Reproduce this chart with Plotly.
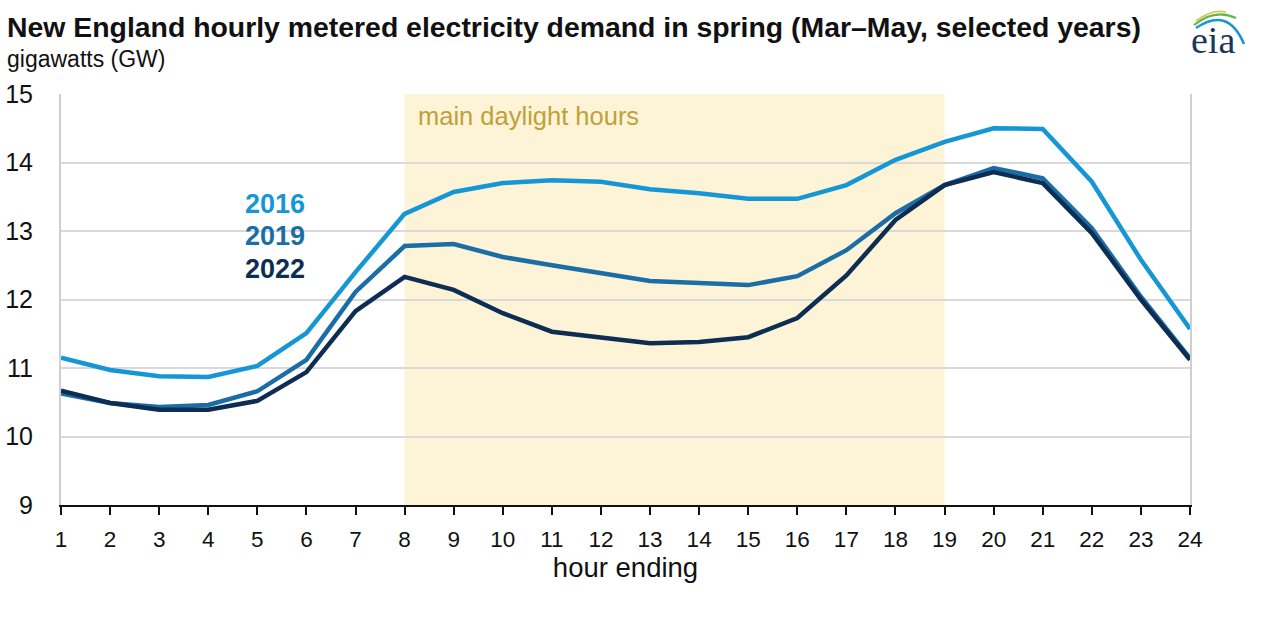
import plotly.graph_objects as go

hours = list(range(1, 25))
demand_2016 = [11.15, 10.97, 10.88, 10.87, 11.03, 11.51, 12.40, 13.25, 13.57, 13.70, 13.74, 13.72,
               13.61, 13.55, 13.47, 13.47, 13.67, 14.04, 14.30, 14.50, 14.49, 13.72, 12.58, 11.57]
demand_2019 = [10.63, 10.49, 10.43, 10.46, 10.66, 11.12, 12.11, 12.78, 12.81, 12.62, 12.50, 12.39,
               12.27, 12.24, 12.21, 12.34, 12.72, 13.26, 13.67, 13.92, 13.77, 13.04, 12.04, 11.14]
demand_2022 = [10.67, 10.49, 10.39, 10.39, 10.52, 10.94, 11.83, 12.33, 12.14, 11.80, 11.53, 11.44,
               11.36, 11.38, 11.45, 11.73, 12.35, 13.16, 13.67, 13.86, 13.70, 12.97, 12.00, 11.12]
series_names = ["2016", "2019", "2022"]
series_colors = ["#1597d5", "#1a6ea5", "#0d2d52"]
daylight_start, daylight_end = 8, 19
y_ticks = [9, 10, 11, 12, 13, 14, 15]

FONT = "Liberation Sans, Arial, sans-serif"

# plot area in pixels
L, R, T, B = 61, 1190, 94, 505
W, H = 1280, 629


def px(x):
    return (x - L) / (R - L)


def py(y):
    return (B - y) / (B - T)


fig = go.Figure()
for name, vals, col in zip(series_names, [demand_2016, demand_2019, demand_2022], series_colors):
    fig.add_trace(go.Scatter(x=hours, y=vals, mode="lines", name=name,
                             line=dict(color=col, width=4.5), showlegend=False))

fig.add_vrect(x0=daylight_start, x1=daylight_end, fillcolor="#fdf4d8", line_width=0, layer="below")

fig.add_annotation(x=daylight_start, y=15, xref="x", yref="y", text="main daylight hours",
                   showarrow=False, xanchor="left", yanchor="top", xshift=11, yshift=-6,
                   font=dict(family=FONT, size=25.5, color="#c1a038"))

label_y = [204, 236, 269]
for name, col, yy in zip(series_names, series_colors, label_y):
    fig.add_annotation(x=px(275), y=py(yy), xref="paper", yref="paper", text="<b>%s</b>" % name,
                       showarrow=False, xanchor="center", yanchor="middle",
                       font=dict(family=FONT, size=27, color=col))

fig.add_annotation(x=px(5), y=py(27), xref="paper", yref="paper", xanchor="left", yanchor="middle",
                   text="<b>New England hourly metered electricity demand in spring (Mar–May, selected years)</b>",
                   showarrow=False, font=dict(family=FONT, size=28.4, color="#111111"))
fig.add_annotation(x=px(5), y=py(59), xref="paper", yref="paper", xanchor="left", yanchor="middle",
                   text="gigawatts (GW)", showarrow=False, font=dict(family=FONT, size=23, color="#111111"))

# eia logo
fig.add_annotation(x=px(1213), y=py(40), xref="paper", yref="paper", xanchor="center", yanchor="middle",
                   text="eia", showarrow=False,
                   font=dict(family="Liberation Serif, Times New Roman, serif", size=38, color="#1d3557"))


def arc(x0, y0, xc, yc, x1, y1, col, w):
    fig.add_shape(type="path", xref="paper", yref="paper",
                  path="M %f %f Q %f %f %f %f" % (px(x0), py(y0), px(xc), py(yc), px(x1), py(y1)),
                  line=dict(color=col, width=w))


arc(1196, 28, 1228, 6, 1244, 44, "#1597d5", 2.5)
arc(1194, 25, 1215, 8, 1236, 18, "#5fb548", 2.2)
arc(1196, 21, 1212, 9, 1226, 12, "#d7c84a", 1.6)

fig.update_layout(
    width=W, height=H,
    margin=dict(l=L, r=W - R, t=T, b=H - B, autoexpand=False),
    paper_bgcolor="white", plot_bgcolor="white",
    font=dict(family=FONT, color="#111111"),
    xaxis=dict(range=[1, 24], tickvals=hours, ticktext=[str(h) for h in hours], automargin=False,
               showgrid=False, zeroline=False, showline=True, linecolor="#111111", linewidth=2,
               ticks="outside", ticklen=8, tickwidth=2, tickcolor="#111111", ticklabelstandoff=5,
               tickfont=dict(size=22.5), title=dict(text="hour ending", font=dict(size=27.5), standoff=5)),
    yaxis=dict(range=[9, 15], tickvals=y_ticks, showgrid=True, gridcolor="#d9d9d9", gridwidth=1.5,
               automargin=False,
               zeroline=False, showline=True, mirror=True, linecolor="#cfcfcf", linewidth=2,
               ticks="", tickfont=dict(size=25), ticklabelstandoff=21),
)

fig.write_html("out.html", config={"displayModeBar": False},
               post_script="document.body.style.margin='0';")
